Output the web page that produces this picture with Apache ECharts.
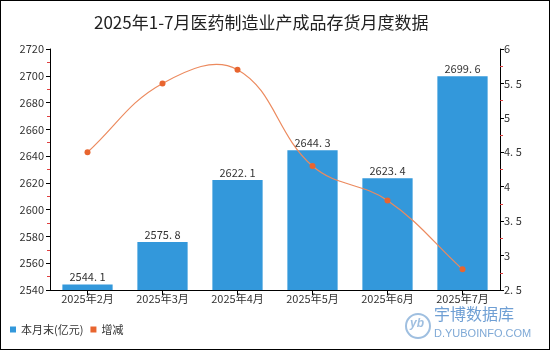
<!DOCTYPE html>
<html><head><meta charset="utf-8">
<script src="https://cdn.jsdelivr.net/npm/echarts@6/dist/echarts.min.js"></script>
<style>html,body{margin:0;padding:0;background:#fff}#c{width:550px;height:350px;box-sizing:border-box;border:1px solid #000}</style>
</head><body><div id="c"></div>
<script>
const categories = ['2025年2月','2025年3月','2025年4月','2025年5月','2025年6月','2025年7月'];
const stockValues = [2544.1, 2575.8, 2622.1, 2644.3, 2623.4, 2699.6];
const changeValues = [4.5, 5.5, 5.7, 4.3, 3.8, 2.8];
const leftTicks = [2540, 2720, 20];
const rightTicks = [2.5, 6, 0.5];
const SMOOTH = 0.4;

const chart = echarts.init(document.getElementById('c'));
const font = '"Noto Sans CJK SC", sans-serif';

function renderCurve(params, api) {
  if (params.dataIndex !== 0) return null;
  const pts = changeValues.map((v, j) => api.coord([j, v]));
  const n = pts.length;
  const cps = pts.map((p, i) => {
    const prev = pts[i === 0 ? i : i - 1];
    const next = pts[i === n - 1 ? i : i + 1];
    const vx = (next[0] - prev[0]) * SMOOTH, vy = (next[1] - prev[1]) * SMOOTH;
    let d0 = Math.hypot(p[0] - prev[0], p[1] - prev[1]);
    let d1 = Math.hypot(p[0] - next[0], p[1] - next[1]);
    const s = d0 + d1;
    if (s) { d0 /= s; d1 /= s; }
    return {c0: [p[0] - vx * d0, p[1] - vy * d0], c1: [p[0] + vx * d1, p[1] + vy * d1]};
  });
  const children = [];
  for (let i = 0; i < n - 1; i++) {
    children.push({type: 'bezierCurve', shape: {
      x1: pts[i][0], y1: pts[i][1], x2: pts[i + 1][0], y2: pts[i + 1][1],
      cpx1: cps[i].c1[0], cpy1: cps[i].c1[1], cpx2: cps[i + 1].c0[0], cpy2: cps[i + 1].c0[1]},
      style: {stroke: '#EC8A5E', lineWidth: 1.2, fill: null}});
  }
  return {type: 'group', children};
}

chart.setOption({
  animation: false,
  textStyle: {fontFamily: font},
  title: {text: '2025年1-7月医药制造业产成品存货月度数据', left: 88, top: 8,
    textStyle: {fontSize: 17, fontWeight: 'normal', color: '#222', fontFamily: font}},
  grid: {left: 49, right: 49, top: 48, bottom: 59},
  legend: {left: 4, bottom: 9, itemWidth: 6, itemHeight: 6, itemGap: 7,
    textStyle: {fontSize: 11, color: '#333'},
    data: [{name: '本月末(亿元)', icon: 'rect'}, {name: '增减', icon: 'rect'}]},
  xAxis: {type: 'category', data: categories,
    axisLine: {lineStyle: {color: '#000'}},
    axisTick: {show: true, alignWithLabel: true, length: 5, lineStyle: {color: '#000'}},
    axisLabel: {color: '#333', fontSize: 11, margin: 3}},
  yAxis: [
    {type: 'value', min: leftTicks[0], max: leftTicks[1], interval: leftTicks[2],
     axisLine: {show: true, lineStyle: {color: '#000'}}, axisTick: {show: true, length: 4},
     minorTick: {show: true, splitNumber: 2, length: 3, lineStyle: {color: '#e04040'}},
     splitLine: {show: false}, axisLabel: {color: '#333', fontSize: 11, margin: 6, formatter: v => String(v)}},
    {type: 'value', min: rightTicks[0], max: rightTicks[1], interval: rightTicks[2],
     axisLine: {show: true, lineStyle: {color: '#000'}}, axisTick: {show: true, length: 4},
     minorTick: {show: true, splitNumber: 2, length: 3, lineStyle: {color: '#e04040'}},
     splitLine: {show: false},
     axisLabel: {color: '#333', fontSize: 11, margin: 4, formatter: v => String(v).replace('.', '. ')}}
  ],
  series: [
    {name: '本月末(亿元)', type: 'bar', data: stockValues, barWidth: '67%',
     itemStyle: {color: '#3398DB'},
     label: {show: true, position: 'top', color: '#333', fontSize: 11, distance: 2,
       formatter: p => p.value.toFixed(1).replace('.', '. ')}},
    {name: '增减curve', type: 'custom', yAxisIndex: 1, z: 3, silent: true,
     data: changeValues.map((v, i) => [i, v]), renderItem: renderCurve},
    {name: '增减', type: 'line', yAxisIndex: 1, data: changeValues, smooth: false, z: 4,
     symbol: 'circle', symbolSize: 6,
     itemStyle: {color: '#E8652F'}, lineStyle: {color: '#EC8A5E', width: 0, opacity: 0}}
  ],
  graphic: [
    {type: 'circle', shape: {cx: 417, cy: 325, r: 12}, style: {fill: 'none', stroke: '#9fbfe0', lineWidth: 2}},
    {type: 'text', left: 409, top: 317, style: {text: 'yb', fill: '#9fbfe0', font: 'italic bold 12px sans-serif'}},
    {type: 'text', left: 433, top: 305, style: {text: '宇博数据库', fill: '#6f9fd4', font: '16px "Noto Sans CJK SC"'}},
    {type: 'text', left: 433, top: 327, style: {text: 'D.YUBOINFO.COM', fill: '#7fa9d6', font: '11px "Liberation Sans"'}}
  ]
});
</script></body></html>
